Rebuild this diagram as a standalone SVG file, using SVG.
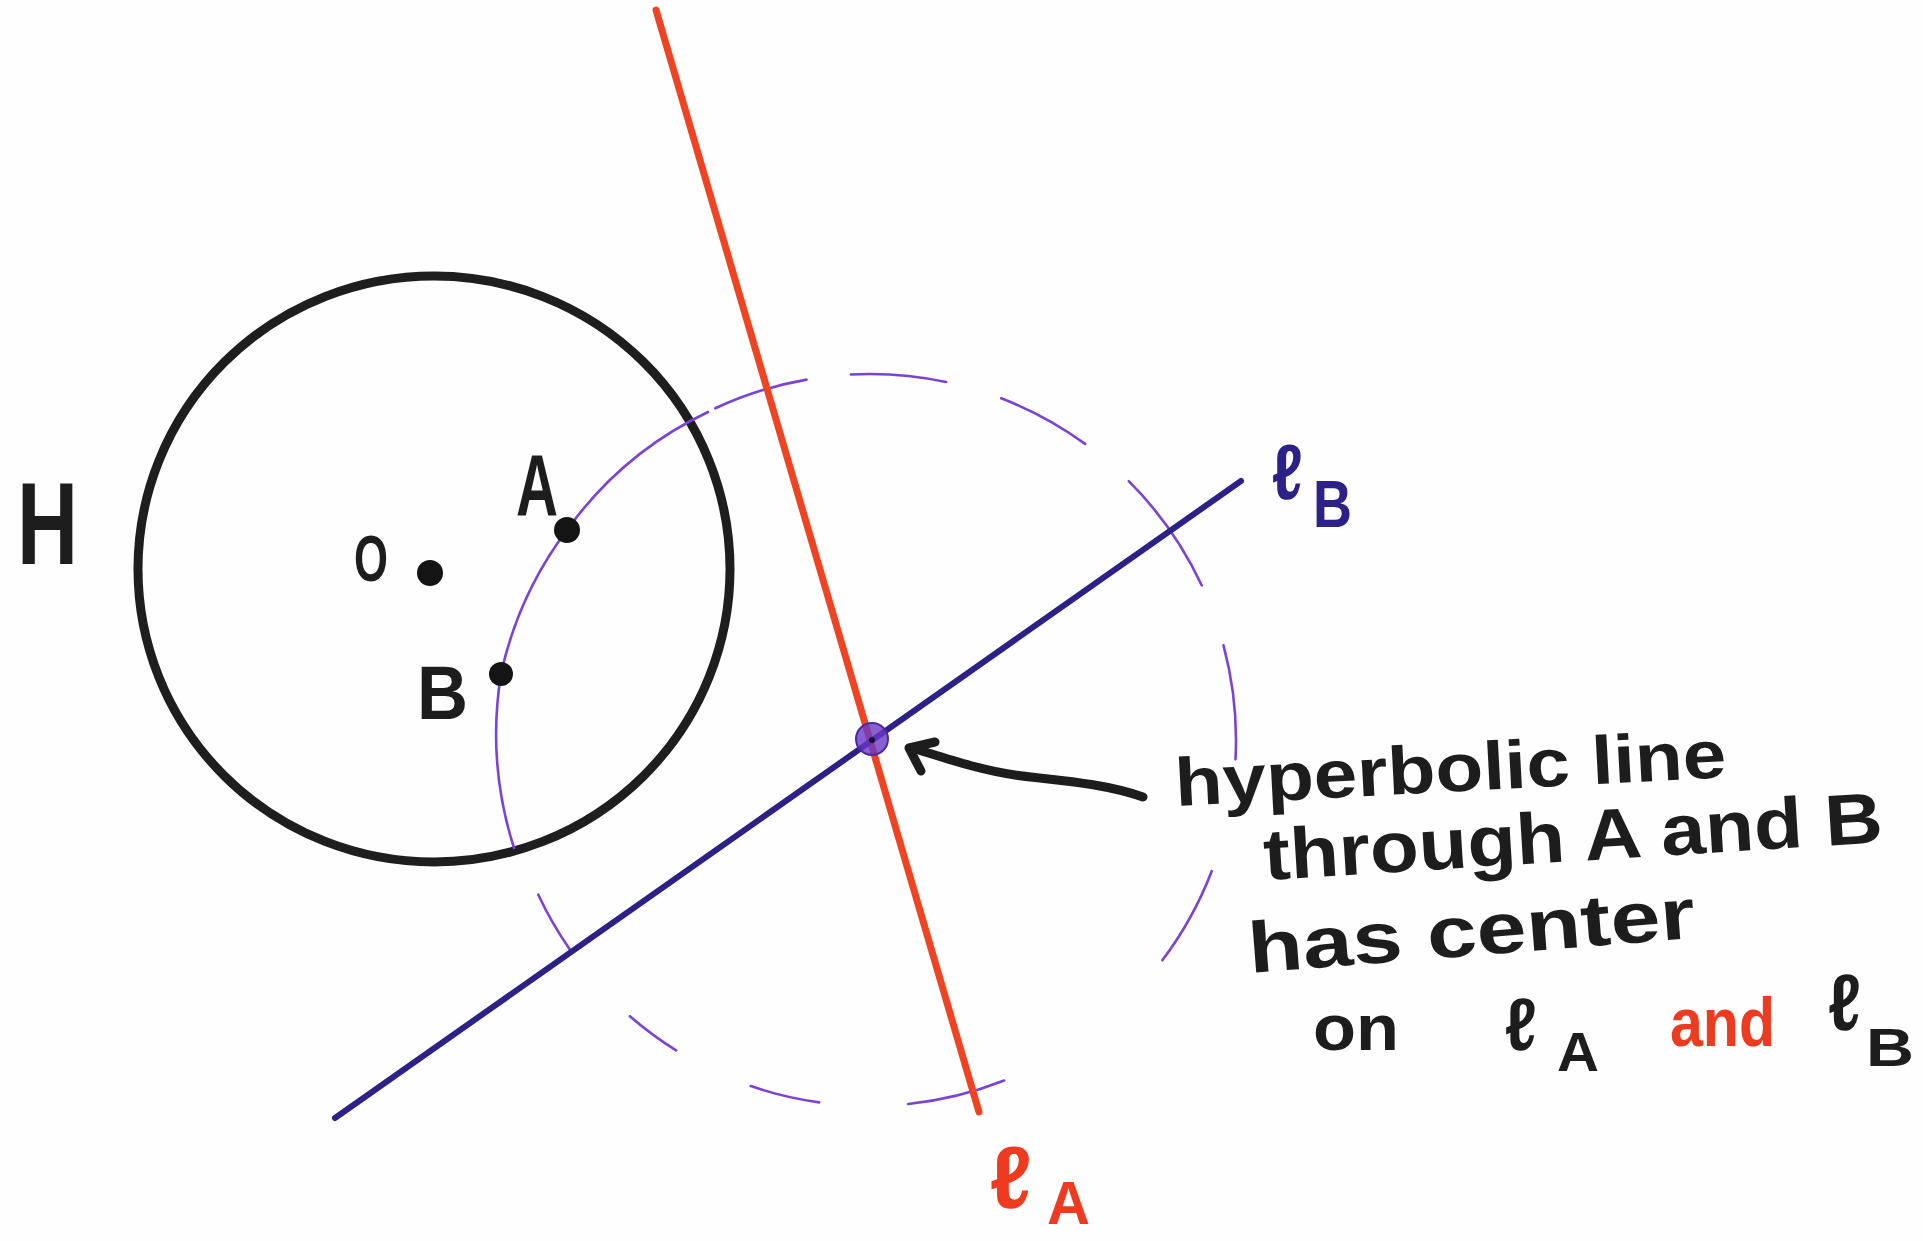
<svg xmlns="http://www.w3.org/2000/svg" width="1923" height="1241" viewBox="0 0 1923 1241">
<style>
.ink{fill:none;stroke-linecap:round;stroke-linejoin:round}
.hyp{fill:none;stroke:#7b42d8;stroke-width:2.6;stroke-linecap:round}
.t{font-family:"Liberation Sans",Arial,sans-serif;fill:#1d1d1d}
.b{font-weight:bold}
.red{fill:#ee3b1f}
.navy{fill:#2b2187}
.dot{fill:#141414}
</style>
<rect width="1923" height="1241" fill="#fefefe"/>

<g id="disk-H">
<ellipse cx="434" cy="569" rx="296" ry="293" class="ink" stroke="#1e1e1e" stroke-width="9"/>
<text class="t b" x="17" y="564" font-size="116" textLength="61" lengthAdjust="spacingAndGlyphs">H</text>
</g>

<g id="hyperbolic-circle">
<path class="hyp" d="M514,848 A375,375 0 0 1 501,674 A372,372 0 0 1 567,530 A368,368 0 0 1 708,412"/>
<path class="hyp" d="M1223.5,645.3 A366,366 0 0 1 1235.5,759.1 M1211.7,871.2 A366,366 0 0 1 1162.3,960.3 M1004.1,1080.5 A366,366 0 0 1 908.3,1104 M819.1,1102.4 A366,366 0 0 1 750.8,1086.1 M676.1,1050.4 A366,366 0 0 1 629.9,1016.2 M570.2,949.9 A366,366 0 0 1 538.3,894.7 M715.3,408.3 A366,366 0 0 1 806.5,379.6 M850.9,374.5 A366,366 0 0 1 946.1,382 M1001.2,398.3 A366,366 0 0 1 1085.1,443.9 M1128.8,481.2 A366,366 0 0 1 1201.7,585.3"/>
</g>

<g id="line-lA">
<line x1="656" y1="10" x2="979" y2="1112" class="ink" stroke="#ef4322" stroke-width="7"/>
<text class="t b red" x="990" y="1208" font-size="88" textLength="42" lengthAdjust="spacingAndGlyphs">ℓ</text>
<text class="t b red" x="1047" y="1224" font-size="62" textLength="43" lengthAdjust="spacingAndGlyphs">A</text>
</g>

<g id="line-lB">
<line x1="335" y1="1118" x2="1241" y2="481" class="ink" stroke="#2b2187" stroke-width="6"/>
<text class="t b navy" x="1272" y="499" font-size="78" textLength="31" lengthAdjust="spacingAndGlyphs">ℓ</text>
<text class="t b navy" x="1313" y="527" font-size="66" textLength="39" lengthAdjust="spacingAndGlyphs">B</text>
</g>

<g id="point-O">
<circle cx="430" cy="573" r="13" class="dot"/>
<text class="t b" x="354" y="581" font-size="64" textLength="34" lengthAdjust="spacingAndGlyphs">O</text>
</g>
<g id="point-A">
<circle cx="567" cy="530" r="13" class="dot"/>
<text class="t b" x="516" y="515" font-size="88" textLength="42" lengthAdjust="spacingAndGlyphs">A</text>
</g>
<g id="point-B">
<circle cx="501" cy="674" r="12" class="dot"/>
<text class="t b" x="417" y="719" font-size="76" textLength="51" lengthAdjust="spacingAndGlyphs">B</text>
</g>

<g id="center">
<circle cx="872" cy="739" r="16" fill="#6a38c8" fill-opacity="0.8" stroke="#4a2aa0" stroke-width="2"/>
<circle cx="872" cy="740" r="3" fill="#1a1030"/>
</g>

<g id="connectors">
<path class="ink" stroke="#1d1d1d" stroke-width="9" d="M1143,797 C1100,782 1050,780 1015,775 S945,758 912,748"/>
<path class="ink" stroke="#1d1d1d" stroke-width="9" d="M935,742 L909,748 L921,771"/>
</g>

<g id="annotation">
<text class="t b" x="1176" y="806" font-size="68" transform="rotate(-3 1176 806)" textLength="552" lengthAdjust="spacingAndGlyphs">hyperbolic line</text>
<text class="t b" x="1265" y="880" font-size="72" transform="rotate(-3.5 1265 880)" textLength="620" lengthAdjust="spacingAndGlyphs">through A and B</text>
<text class="t b" x="1250" y="973" font-size="72" transform="rotate(-4.5 1250 973)" textLength="448" lengthAdjust="spacingAndGlyphs">has center</text>
<text class="t b" x="1313" y="1050" font-size="64" textLength="86" lengthAdjust="spacingAndGlyphs">on</text>
<text class="t b" x="1505" y="1050" font-size="74" textLength="32" lengthAdjust="spacingAndGlyphs">ℓ</text>
<text class="t b" x="1557" y="1071" font-size="56" textLength="42" lengthAdjust="spacingAndGlyphs">A</text>
<text class="t b red" x="1670" y="1046" font-size="68" textLength="105" lengthAdjust="spacingAndGlyphs">and</text>
<text class="t b" x="1828" y="1030" font-size="80" textLength="33" lengthAdjust="spacingAndGlyphs">ℓ</text>
<text class="t b" x="1866" y="1066" font-size="54" textLength="48" lengthAdjust="spacingAndGlyphs">B</text>
</g>
</svg>
